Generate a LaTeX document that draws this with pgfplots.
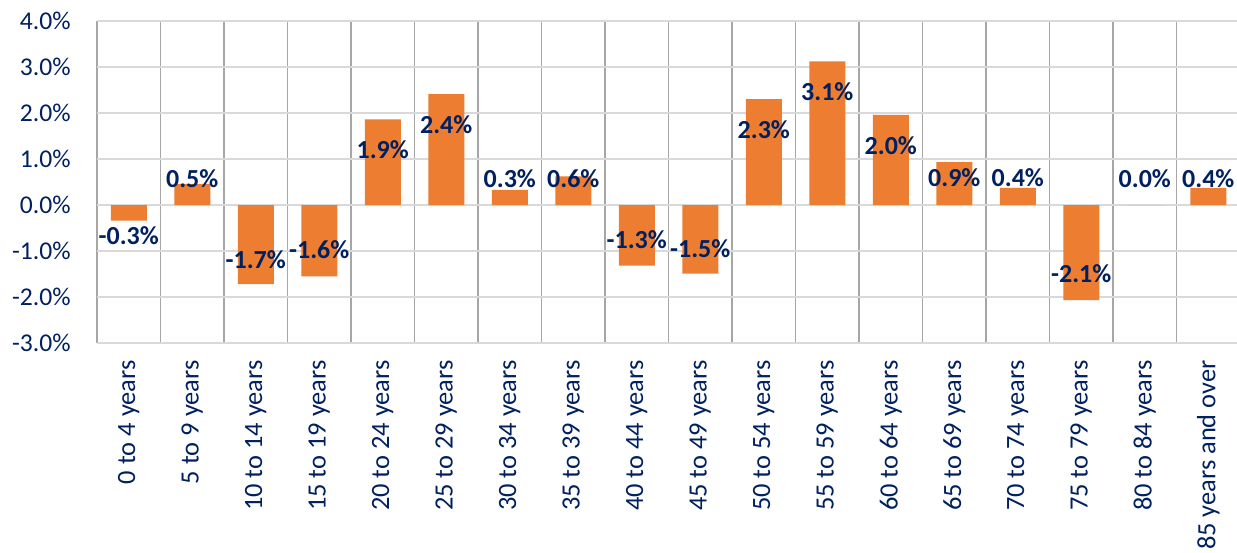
\documentclass[border=0pt]{standalone}
\usepackage{fontspec}
\setmainfont{Carlito}
\usepackage{pgfplots}
\pgfplotsset{compat=1.18}
\usepackage{pgfplotstable}
\definecolor{barorange}{RGB}{237,125,49}
\definecolor{navy}{RGB}{0,32,96}
\definecolor{hgrid}{RGB}{217,217,217}
\definecolor{vgrid}{RGB}{166,166,166}

\pgfplotstableread{
x val lab ly
0 -0.34 -0.3 -0.67
1 0.46 0.5 0.58
2 -1.72 -1.7 -1.18
3 -1.55 -1.6 -0.98
4 1.86 1.9 1.20
5 2.41 2.4 1.74
6 0.33 0.3 0.58
7 0.62 0.6 0.58
8 -1.32 -1.3 -0.76
9 -1.49 -1.5 -0.94
10 2.30 2.3 1.64
11 3.12 3.1 2.46
12 1.96 2.0 1.30
13 0.93 0.9 0.59
14 0.37 0.4 0.59
15 -2.07 -2.1 -1.49
16 0.00 0.0 0.58
17 0.37 0.4 0.58
}\data

\begin{document}
\begin{tikzpicture}
\begin{axis}[
  at={(48.5pt,104.5pt)}, anchor=south west,
  scale only axis, width=571.5pt, height=161pt,
  xmin=-0.5, xmax=17.5, ymin=-3, ymax=4,
  ytick={-3,-2,-1,0,1,2,3,4},
  xtick={0,...,17},
  xticklabels={0 to 4 years,5 to 9 years,10 to 14 years,15 to 19 years,20 to 24 years,25 to 29 years,30 to 34 years,35 to 39 years,40 to 44 years,45 to 49 years,50 to 54 years,55 to 59 years,60 to 64 years,65 to 69 years,70 to 74 years,75 to 79 years,80 to 84 years,85 years and over},
  minor xtick={-0.5,0.5,...,17.5},
  ymajorgrids, xmajorgrids=false, xminorgrids,
  major grid style={hgrid, line width=1pt},
  minor grid style={vgrid, line width=0.6pt},
  axis line style={draw=none},
  major tick style={draw=none},
  minor tick style={draw=none},
  yticklabel={\pgfmathprintnumber[fixed,fixed zerofill,precision=1,assume math mode=true]{\tick}\%},
  yticklabel style={font=\fontsize{12.8}{15}\selectfont, text=navy, anchor=east, inner sep=0pt, xshift=-13pt},
  xticklabel style={font=\fontsize{13.2}{16}\selectfont, text=navy, yshift=-8.5pt, rotate=90, anchor=east, inner sep=0pt},
  clip=false,
]
\addplot[ybar, bar width=18pt, fill=barorange, draw=none] table[x=x, y=val]{\data};
\addplot[draw=none, mark=none, point meta=explicit,
  nodes near coords={\pgfmathprintnumber[fixed,fixed zerofill,precision=1,assume math mode=true]{\pgfplotspointmeta}\%},
  nodes near coords style={anchor=center, inner sep=0pt, text=navy, font=\fontsize{13}{15}\selectfont\bfseries}]
  table[x=x, y=ly, meta=lab]{\data};
\end{axis}
\pgfresetboundingbox
\path[use as bounding box] (0,0) rectangle (618.5pt,276pt);
\end{tikzpicture}
\end{document}
